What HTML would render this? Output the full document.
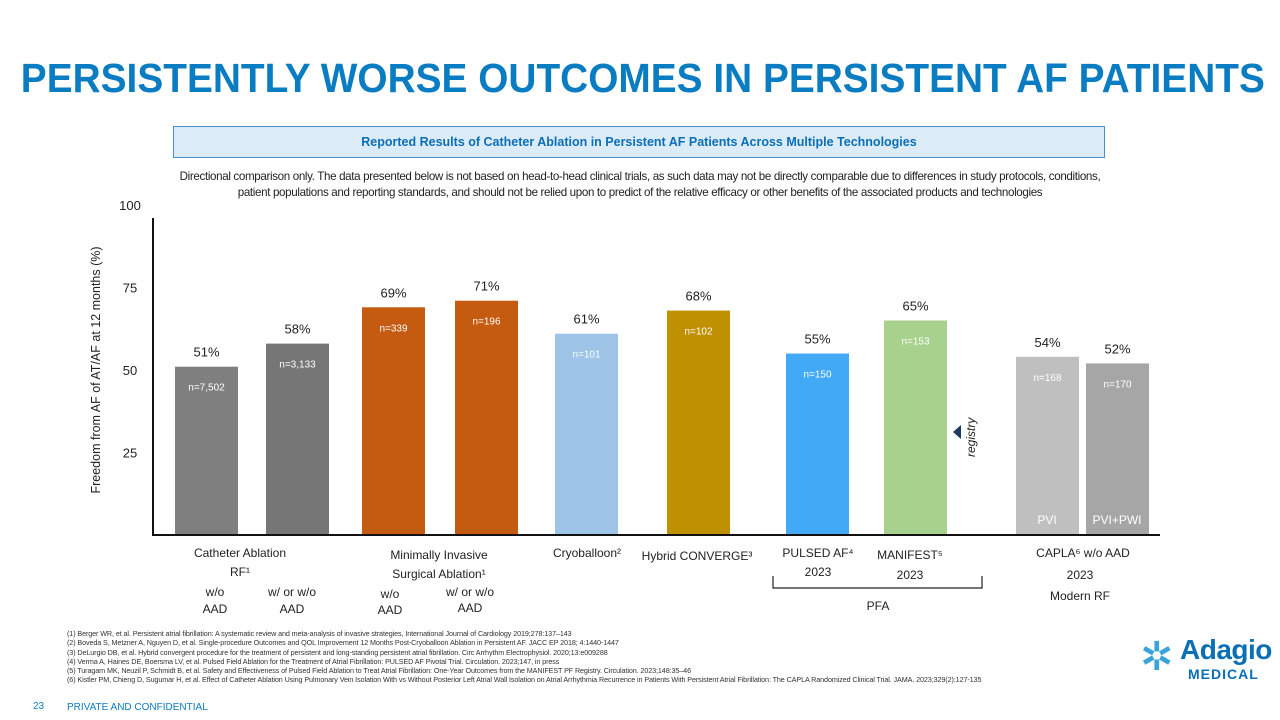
<!DOCTYPE html>
<html><head><meta charset="utf-8"><style>
body{margin:0;width:1280px;height:720px;overflow:hidden;background:#fff;font-family:"Liberation Sans",sans-serif;position:relative}
.a{position:absolute}
</style></head><body>
<div class="a" style="left:-14px;top:55px;width:1284px;text-align:center;white-space:nowrap"><span style="display:inline-block;color:#0a7cc1;font-weight:bold;font-size:41px;transform:scaleX(0.947);transform-origin:center">PERSISTENTLY WORSE OUTCOMES IN PERSISTENT AF PATIENTS</span></div>
<div class="a" style="left:173px;top:126px;width:930px;height:30px;background:#dcebf8;border:1px solid #4a90c8;color:#0a6fb5;font-weight:bold;font-size:12.5px;line-height:30px;text-align:center">Reported Results of Catheter Ablation in Persistent AF Patients Across Multiple Technologies</div>
<div class="a" style="left:140px;top:169px;width:1000px;text-align:center;font-size:11.6px;line-height:16px;color:#222;letter-spacing:-0.35px;white-space:nowrap">Directional comparison only. The data presented below is not based on head-to-head clinical trials, as such data may not be directly comparable due to differences in study protocols, conditions,<br>patient populations and reporting standards, and should not be relied upon to predict of the relative efficacy or other benefits of the associated products and technologies</div>
<svg class="a" style="left:0;top:0" width="1280" height="720">
<g id="g"></g>
</svg>
<div class="a" style="left:67px;top:629px;font-size:7.2px;line-height:9.3px;color:#333;white-space:nowrap;letter-spacing:-0.1px">
(1) Berger WR, et al. Persistent atrial fibrillation: A systematic review and meta-analysis of invasive strategies, International Journal of Cardiology 2019;278:137–143<br>
(2) Boveda S, Metzner A, Nguyen D, et al. Single-procedure Outcomes and QOL Improvement 12 Months Post-Cryoballoon Ablation in Persistent AF. JACC EP 2018; 4:1440-1447<br>
(3) DeLurgio DB, et al. Hybrid convergent procedure for the treatment of persistent and long-standing persistent atrial fibrillation. Circ Arrhythm Electrophysiol. 2020;13:e009288<br>
(4) Verma A, Haines DE, Boersma LV, et al. Pulsed Field Ablation for the Treatment of Atrial Fibrillation: PULSED AF Pivotal Trial. Circulation. 2023;147, in press<br>
(5) Turagam MK, Neuzil P, Schmidt B, et al. Safety and Effectiveness of Pulsed Field Ablation to Treat Atrial Fibrillation: One-Year Outcomes from the MANIFEST PF Registry. Circulation. 2023;148:35–46<br>
(6) Kistler PM, Chieng D, Sugumar H, et al. Effect of Catheter Ablation Using Pulmonary Vein Isolation With vs Without Posterior Left Atrial Wall Isolation on Atrial Arrhythmia Recurrence in Patients With Persistent Atrial Fibrillation: The CAPLA Randomized Clinical Trial. JAMA. 2023;329(2):127-135</div>
<div class="a" style="left:33px;top:701px;font-size:10px;color:#0a7cc1">23</div>
<div class="a" style="left:67px;top:702px;font-size:10px;color:#0a7cc1">PRIVATE AND CONFIDENTIAL</div>
<div class="a" style="left:1140px;top:630px;width:135px;height:60px">
<div class="a" style="left:0;top:4px;font-size:40px;color:#3aa3d8">✲</div>
<div class="a" style="left:40px;top:4px;font-size:28px;color:#0a6fb5;font-weight:bold;letter-spacing:-0.5px">Adagio</div>
<div class="a" style="left:48px;top:36px;font-size:14px;color:#0a6fb5;font-weight:bold;letter-spacing:1px">MEDICAL</div>
</div>
<script>
const values=[51,58,69,71,61,68,55,65,54,52];
const ns=["n=7,502","n=3,133","n=339","n=196","n=101","n=102","n=150","n=153","n=168","n=170"];
const colors=["#7f7f7f","#767676","#c55a11","#c55a11","#9dc3e6","#bf9000","#41a9f5","#a9d18e","#bfbfbf","#a6a6a6"];
const xs=[175,266,362,455,555,667,786,884,1016,1086];
const yTicks=[25,50,75,100];
const SVGNS="http://www.w3.org/2000/svg";
const g=document.getElementById('g');
const y=v=>535-v*3.3;
function el(t,a,txt){const e=document.createElementNS(SVGNS,t);for(const k in a)e.setAttribute(k,a[k]);if(txt!=null)e.textContent=txt;g.appendChild(e);return e;}
yTicks.forEach(v=>{
const e=el('text',{x:130,y:y(v)+5,'text-anchor':'middle','font-size':13,fill:'#222','font-family':'Liberation Sans'},v);


});
values.forEach((v,i)=>{
const r=el('rect',{x:xs[i],y:y(v),width:63,height:v*3.3,fill:colors[i]});


const l=el('text',{x:xs[i]+31.5,y:y(v)-10,'text-anchor':'middle','font-size':13,fill:'#222'},v+'%');


const n=el('text',{x:xs[i]+31.5,y:y(v)+24,'text-anchor':'middle','font-size':10,fill:'#fff'},ns[i]);


});
const ax=el('path',{d:'M153 218V535H1160',stroke:'#111','stroke-width':2,fill:'none'});


const yt=el('text',{transform:'translate(100,370) rotate(-90)','text-anchor':'middle','font-size':12.5,fill:'#222'},'Freedom from AF of AT/AF at 12 months (%)');


[['PVI',1047],['PVI+PWI',1117]].forEach(a=>{const t=el('text',{x:a[1],y:524,'text-anchor':'middle','font-size':12,fill:'#fff'},a[0]);

});
const rg=el('text',{transform:'translate(975,457) rotate(-90)','font-size':12,'font-style':'italic',fill:'#222'},'registry');


el('path',{d:'M953 432l8-7v14z',fill:'#1f3b5a'});
const cats=[[240,553,'Catheter Ablation'],[240,572,'RF¹'],[215,592,'w/o'],[215,609,'AAD'],[292,592,'w/ or w/o'],[292,609,'AAD'],
[439,555,'Minimally Invasive'],[439,574,'Surgical Ablation¹'],[390,594,'w/o'],[390,610,'AAD'],[470,592,'w/ or w/o'],[470,608,'AAD'],
[587,553,'Cryoballoon²'],[697,556,'Hybrid CONVERGE³'],[818,553,'PULSED AF⁴'],[818,572,'2023'],[910,555,'MANIFEST⁵'],[910,575,'2023'],
[878,606,'PFA'],[1083,553,'CAPLA⁶ w/o AAD'],[1080,575,'2023'],[1080,596,'Modern RF']];
cats.forEach(c=>{const t=el('text',{x:c[0],y:c[1]+4,'text-anchor':'middle','font-size':12,fill:'#222'},c[2]);

});
el('path',{d:'M773 576v12H982v-12',stroke:'#222',fill:'none','stroke-width':1.2});
</script>
</body></html>
